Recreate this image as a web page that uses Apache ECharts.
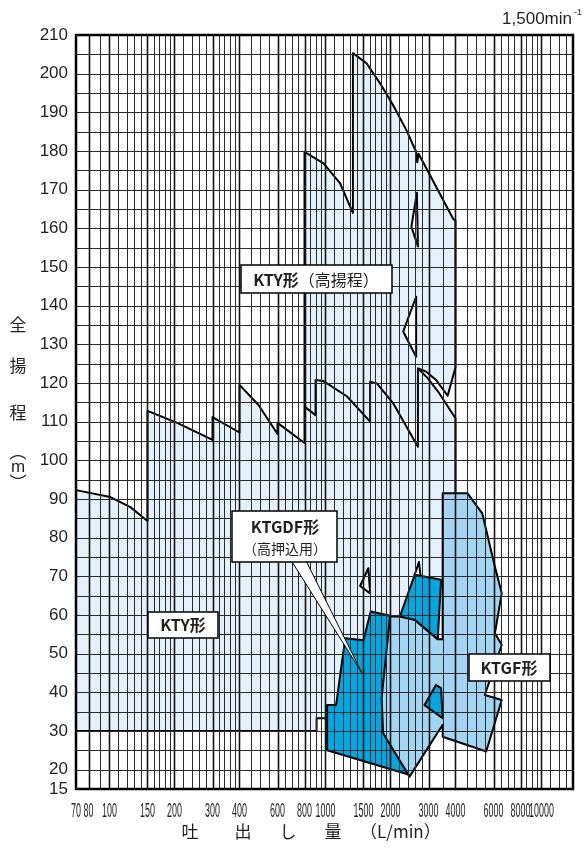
<!DOCTYPE html>
<html><head><meta charset="utf-8">
<script src="https://cdn.jsdelivr.net/npm/echarts@6/dist/echarts.min.js"></script>
<style>html,body{margin:0;padding:0;background:#fff}#c{width:586px;height:856px}</style>
</head><body><div id="c"></div>
<script>
// ---- axis ticks / grid ----
const xTickLabels = [70, 80, 100, 150, 200, 300, 400, 600, 800, 1000, 1500, 2000, 3000, 4000, 6000, 8000, 10000];
const yTickLabels = [15, 20, 30, 40, 50, 60, 70, 80, 90, 100, 110, 120, 130, 140, 150, 160, 170, 180, 190, 200, 210];
const xGridMajor = [80, 100, 150, 200, 300, 400, 600, 800, 1000, 1500, 2000, 3000, 4000, 6000, 8000, 10000];
const xGridMinor = [90, 110, 120, 130, 140, 160, 170, 180, 190, 220, 240, 260, 280, 320, 340, 360, 380,
  450, 500, 550, 650, 700, 750, 850, 900, 950, 1100, 1200, 1300, 1400, 1600, 1700, 1800, 1900,
  2200, 2400, 2600, 2800, 3500, 4500, 5000, 5500, 6500, 7000, 7500, 8500, 9000, 9500, 11000, 12000, 13000];
const yGrid = [20, 25, 30, 35, 40, 45, 50, 55, 60, 65, 70, 75, 80, 85, 90, 95, 100, 105, 110, 115, 120, 125,
  130, 135, 140, 145, 150, 155, 160, 165, 170, 175, 180, 185, 190, 195, 200, 205];

// ---- regions [flow L/min, head m] ----
const ktyOutline = [
  [70, 92.3], [101, 90.5], [125, 87.9], [150, 84.3],
  [150, 112.8], [206, 109.7], [300, 105.3],
  [300, 111.2], [400, 107.2],
  [400, 119.5], [490, 114.3], [600, 106.8],
  [600, 109.7], [800, 104.5],
  [800, 179.8], [980, 176.8], [1170, 171.6], [1340, 164],
  [1340, 205.3], [1550, 202.7], [1790, 197.5], [2055, 191.9], [2370, 185.4], [2630, 179.8],
  [2660, 177.1], [2700, 179.3], [3900, 162.5], [4000, 162],
  [4000, 124], [3680, 116.7], [3250, 120.8], [2930, 122.9], [2680, 123.8],
  [2980, 121.2], [3370, 117.3], [4000, 110.9],
  [4000, 91.6], [3740, 53.5], [2730, 48.4], [1990, 38], [1170, 31], [1030, 31], [1030, 33.3],
  [910, 33.3], [910, 30], [70, 30]
];
const ktySawtooth = [[800, 113.9], [900, 111.7], [900, 120.8], [980, 120.5], [1260, 116.5], [1610, 110],
  [1610, 120.3], [1730, 119.9], [2055, 114.8], [2680, 103.5], [2680, 123.8]];
const ktyNotchWhite = [[2300, 110], [2680, 110], [2680, 103.5]];
const holeA = [[2650, 169.2], [2500, 160.4], [2680, 155.3]];
const holeB = [[2630, 142.3], [2290, 133.3], [2630, 126.8]];
const holeC = [[1447, 67.5], [1580, 72.1], [1610, 65.6]];
const holeD = [[2590, 70.4], [2710, 73.7], [2760, 69.8]];
const ktgdfOutline = [[1018, 36.7], [1120, 36.7], [1235, 54], [1500, 53.5], [1620, 60.9], [1990, 59.8],
  [2210, 59.6], [2590, 70.4], [3430, 69.1], [3310, 53.7], [2590, 58.7], [2450, 38], [2400, 18.8], [1018, 25]];
const ktgfOutline = [[3490, 91.5], [4540, 91.5], [5320, 86.3], [6090, 72.5], [6550, 65.6], [6090, 55.3],
  [6550, 52.3], [5470, 39.3], [6550, 38], [5550, 24.7], [3490, 28.5], [3490, 31.6], [2450, 18.2],
  [1850, 29.4], [1820, 38.5], [1990, 59.6], [2210, 59.6], [2590, 58.7], [3310, 53.7], [3490, 53.7]];
const ktgdfSmall = [[2875, 36.7], [3250, 41.9], [3430, 41.1], [3490, 33.3]];
const pointer = [[696, 74], [813, 74], [1473, 45.1]];

const C_KTY = '#e4f1fb', C_GDF = '#00a7e1', C_GF = '#a3d5f2', INK = '#231f20';
const NUMFONT = "'Liberation Sans', Arial, sans-serif";
const CJK = "'Noto Sans CJK JP', 'Noto Sans', sans-serif";

function polySeries(pts, fill, stroke, lw, z) {
  return {
    type: 'custom', coordinateSystem: 'cartesian2d', z, silent: true, clip: false,
    data: [[pts[0][0], pts[0][1]]], encode: { x: 0, y: 1 },
    renderItem: (p, api) => ({
      type: 'polygon', shape: { points: pts.map(q => api.coord(q)) },
      style: { fill, stroke: stroke || null, lineWidth: lw, lineJoin: 'round' }
    })
  };
}
function lineSeries(pts, lw, z) {
  return {
    type: 'custom', coordinateSystem: 'cartesian2d', z, silent: true, clip: false,
    data: [[pts[0][0], pts[0][1]]], encode: { x: 0, y: 1 },
    renderItem: (p, api) => ({
      type: 'polyline', shape: { points: pts.map(q => api.coord(q)) },
      style: { fill: null, stroke: '#000', lineWidth: lw, lineJoin: 'round' }
    })
  };
}
function vGrid(vals, lw, color, z) {
  return {
    type: 'custom', coordinateSystem: 'cartesian2d', z, silent: true,
    data: vals.map(v => [v, 100]), encode: { x: 0, y: 1 },
    renderItem: (p, api) => {
      const v = api.value(0), a = api.coord([v, 15]), b = api.coord([v, 210]);
      const x = lw % 2 ? Math.round(a[0]) + 0.5 : Math.round(a[0]);
      return { type: 'line', shape: { x1: x, y1: a[1], x2: x, y2: b[1] }, style: { stroke: color, lineWidth: lw } };
    }
  };
}
function hGrid(vals, lw, color, z) {
  return {
    type: 'custom', coordinateSystem: 'cartesian2d', z, silent: true,
    data: vals.map(v => [100, v]), encode: { x: 0, y: 1 },
    renderItem: (p, api) => {
      const v = api.value(1), a = api.coord([70, v]), b = api.coord([14000, v]);
      const y = Math.round(a[1]) + 0.5;
      return { type: 'line', shape: { x1: a[0], y1: y, x2: b[0], y2: y }, style: { stroke: color, lineWidth: lw } };
    }
  };
}
// x tick labels: placed by the log axis, drawn condensed like the printed chart
const xLabelSeries = {
  type: 'custom', coordinateSystem: 'cartesian2d', z: 10, silent: true, clip: false,
  data: xTickLabels.map(v => [v, 15]), encode: { x: 0, y: 1 },
  renderItem: (p, api) => {
    const v = api.value(0), c = api.coord([v, 15]);
    return { type: 'text', x: c[0], y: c[1] + 22, scaleX: 0.47, scaleY: 1.1,
      style: { text: String(v), font: `19px ${NUMFONT}`, fill: INK, align: 'center', verticalAlign: 'middle',
        textAlign: 'center', textVerticalAlign: 'middle' } };
  }
};
const frameSeries = {
  type: 'custom', coordinateSystem: 'cartesian2d', z: 10, silent: true,
  data: [[100, 100]], encode: { x: 0, y: 1 },
  renderItem: (p, api) => {
    const a = api.coord([70, 210]), b = api.coord([14000, 15]);
    return { type: 'rect', shape: { x: a[0], y: a[1], width: b[0] - a[0], height: b[1] - a[1] },
      style: { fill: null, stroke: '#000', lineWidth: 2.5 } };
  }
};

function box(x, y, w, h) {
  return { type: 'rect', z: 20, shape: { x, y, width: w, height: h }, style: { fill: '#fff', stroke: '#000', lineWidth: 1.5 } };
}
function txt(text, x, y, size, opts) {
  return { type: 'text', z: 21, x, y, style: Object.assign({ text, fill: INK, font: `${size}px ${CJK}`,
    textAlign: 'center', textVerticalAlign: 'middle' }, (opts || {})) };
}

const chart = echarts.init(document.getElementById('c'));
chart.setOption({
  animation: false,
  backgroundColor: '#fff',
  grid: { left: 76, right: 13, top: 35, bottom: 67, show: false },
  xAxis: {
    type: 'log', logBase: 10, min: 70, max: 14000,
    axisLine: { show: false }, axisTick: { show: false }, splitLine: { show: false },
    axisLabel: { show: false }
  },
  yAxis: {
    type: 'value', min: 15, max: 210, interval: 5,
    axisLine: { show: false }, axisTick: { show: false }, splitLine: { show: false },
    axisLabel: { customValues: yTickLabels, fontFamily: NUMFONT, fontSize: 17, color: INK, margin: 8 }
  },
  series: [
    polySeries(ktyOutline, C_KTY, '#000', 2, 2),
    polySeries(ktyNotchWhite, '#fff', null, 0, 2),
    lineSeries(ktySawtooth, 2, 2),
    polySeries(holeA, '#fff', '#000', 2, 2),
    polySeries(holeB, '#fff', '#000', 2, 2),
    polySeries(holeC, '#fff', '#000', 2, 2),
    polySeries(holeD, '#fff', '#000', 2, 2),
    polySeries(ktgdfOutline, C_GDF, '#000', 2, 2),
    polySeries(ktgfOutline, C_GF, '#000', 2, 2),
    polySeries(ktgdfSmall, C_GDF, '#000', 2, 2),
    vGrid(xGridMinor, 1, '#2a2a2a', 5),
    vGrid(xGridMajor, 1.6, '#111', 5),
    hGrid(yGrid, 1, '#2a2a2a', 5),
    polySeries(pointer, '#fff', '#000', 1, 6),
    frameSeries,
    xLabelSeries
  ],
  graphic: [
    txt('1,500min', 572, 19, 17, { textAlign: 'right', font: `17px ${NUMFONT}` }),
    txt('-1', 574, 13, 9, { textAlign: 'left', font: `9px ${NUMFONT}` }),
    txt('全', 18, 325, 17), txt('揚', 18, 366, 17), txt('程', 18, 413, 17),
    txt('︵', 18, 452, 17), txt('m', 18, 467, 17, { font: `17px ${NUMFONT}` }), txt('︶', 18, 483, 17),
    txt('吐', 190, 832, 17), txt('出', 243, 832, 17), txt('し', 288, 832, 17), txt('量', 333, 832, 17),
    txt('（L/min）', 360, 832, 17, { textAlign: 'left' }),
    box(241, 265, 151, 28),
    { type: 'text', z: 21, x: 316, y: 280, style: { rich: {
        b: { font: `bold 16px ${CJK}`, fill: INK }, r: { font: `16px ${CJK}`, fill: INK } },
        text: '{b|KTY形}{r|（高揚程）}', textAlign: 'center', textVerticalAlign: 'middle' } },
    box(232, 511, 105, 51),
    txt('KTGDF形', 285, 527, 16, { font: `bold 16px ${CJK}` }),
    txt('（高押込用）', 285, 549, 14, { font: `14px ${CJK}` }),
    box(148, 612, 70, 26),
    txt('KTY形', 183, 625, 16, { font: `bold 16px ${CJK}` }),
    box(469, 654, 81, 27),
    txt('KTGF形', 509, 668, 16, { font: `bold 16px ${CJK}` })
  ]
});
</script></body></html>
